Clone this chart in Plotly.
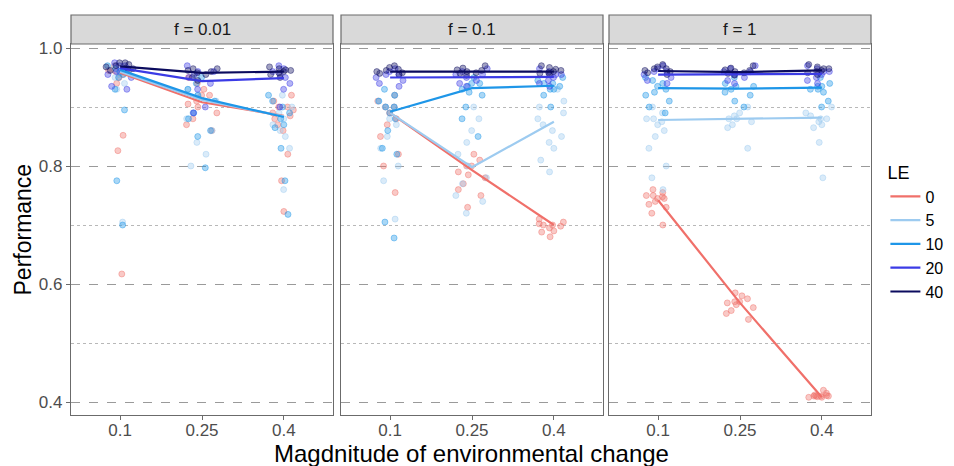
import plotly.graph_objects as go
from plotly.subplots import make_subplots

# ---------------- data ----------------
facets = ["f = 0.01", "f = 0.1", "f = 1"]
magnitudes = ["0.1", "0.25", "0.4"]
le_levels = ["0", "5", "10", "20", "40"]
le_colors = ["#F0706A", "#9DCBF0", "#1E96E8", "#3B3BE6", "#0B0B5E"]

# mean performance per facet, per LE, per magnitude (lines)
means_f001 = {
    "0":  [0.958, 0.908, 0.885],
    "5":  [0.960, 0.912, 0.884],
    "10": [0.963, 0.915, 0.883],
    "20": [0.966, 0.944, 0.949],
    "40": [0.969, 0.958, 0.960],
}
means_f01 = {
    "0":  [0.890, 0.793, 0.700],
    "5":  [0.890, 0.798, 0.875],
    "10": [0.892, 0.932, 0.936],
    "20": [0.950, 0.951, 0.951],
    "40": [0.960, 0.960, 0.960],
}
means_f1 = {
    "0":  [0.742, 0.568, 0.408],
    "5":  [0.878, 0.880, 0.882],
    "10": [0.932, 0.931, 0.933],
    "20": [0.955, 0.955, 0.956],
    "40": [0.961, 0.959, 0.962],
}

# individual runs (points) per facet, per LE, per magnitude
runs_f001 = {
    "0": [[0.97, 0.965, 0.96, 0.955, 0.95, 0.96, 0.94, 0.852, 0.826, 0.617, 0.958, 0.962],
          [0.93, 0.92, 0.91, 0.90, 0.89, 0.92, 0.88, 0.87, 0.86, 0.95, 0.94, 0.905],
          [0.91, 0.90, 0.89, 0.88, 0.87, 0.86, 0.92, 0.775, 0.723, 0.82, 0.90, 0.895, 0.885]],
    "5": [[0.97, 0.96, 0.955, 0.95, 0.94, 0.93, 0.705, 0.96, 0.965],
          [0.93, 0.92, 0.91, 0.89, 0.88, 0.86, 0.84, 0.82, 0.80, 0.95],
          [0.90, 0.89, 0.88, 0.87, 0.86, 0.85, 0.83, 0.76, 0.92]],
    "10": [[0.97, 0.965, 0.96, 0.955, 0.95, 0.93, 0.895, 0.775, 0.70, 0.96],
           [0.95, 0.93, 0.92, 0.91, 0.89, 0.88, 0.86, 0.85, 0.797, 0.94],
           [0.92, 0.91, 0.89, 0.88, 0.87, 0.865, 0.83, 0.775, 0.718, 0.90]],
    "20": [[0.975, 0.97, 0.965, 0.96, 0.955, 0.95, 0.93, 0.935, 0.97],
           [0.97, 0.96, 0.95, 0.94, 0.93, 0.90, 0.89, 0.96, 0.955],
           [0.97, 0.96, 0.955, 0.95, 0.94, 0.93, 0.90, 0.965]],
    "40": [[0.975, 0.972, 0.97, 0.968, 0.965, 0.962, 0.975, 0.96],
           [0.965, 0.962, 0.96, 0.958, 0.955, 0.95, 0.945, 0.965],
           [0.965, 0.963, 0.96, 0.958, 0.955, 0.95, 0.962, 0.968]],
}
runs_f01 = {
    "0": [[0.92, 0.91, 0.90, 0.89, 0.88, 0.87, 0.85, 0.82, 0.80, 0.755, 0.90],
          [0.82, 0.81, 0.80, 0.79, 0.785, 0.78, 0.77, 0.76, 0.75, 0.73, 0.80],
          [0.71, 0.705, 0.70, 0.698, 0.695, 0.69, 0.688, 0.68, 0.70, 0.702]],
    "5": [[0.92, 0.91, 0.90, 0.88, 0.87, 0.85, 0.83, 0.80, 0.775, 0.71, 0.90],
          [0.88, 0.86, 0.84, 0.82, 0.80, 0.78, 0.77, 0.75, 0.74, 0.72, 0.90],
          [0.93, 0.91, 0.90, 0.89, 0.88, 0.87, 0.86, 0.85, 0.84, 0.83, 0.81, 0.79]],
    "10": [[0.93, 0.92, 0.91, 0.90, 0.89, 0.88, 0.86, 0.83, 0.82, 0.705, 0.678, 0.90],
           [0.95, 0.94, 0.935, 0.93, 0.925, 0.92, 0.90, 0.88, 0.85, 0.94],
           [0.95, 0.945, 0.94, 0.935, 0.93, 0.93, 0.92, 0.90, 0.94]],
    "20": [[0.965, 0.96, 0.955, 0.95, 0.945, 0.94, 0.935, 0.955],
           [0.965, 0.96, 0.955, 0.95, 0.945, 0.94, 0.935, 0.955],
           [0.965, 0.96, 0.955, 0.95, 0.945, 0.94, 0.935, 0.955]],
    "40": [[0.97, 0.967, 0.964, 0.96, 0.957, 0.955, 0.962, 0.958],
           [0.97, 0.966, 0.963, 0.96, 0.957, 0.954, 0.962, 0.958],
           [0.97, 0.967, 0.964, 0.96, 0.957, 0.955, 0.962, 0.958]],
}
runs_f1 = {
    "0": [[0.76, 0.755, 0.75, 0.748, 0.745, 0.74, 0.735, 0.73, 0.72, 0.70, 0.745, 0.75],
          [0.585, 0.58, 0.575, 0.57, 0.568, 0.565, 0.56, 0.555, 0.55, 0.54, 0.57],
          [0.415, 0.412, 0.41, 0.41, 0.41, 0.409, 0.408, 0.408, 0.41, 0.42, 0.411]],
    "5": [[0.90, 0.89, 0.88, 0.875, 0.87, 0.86, 0.85, 0.83, 0.80, 0.78, 0.76, 0.88],
          [0.90, 0.89, 0.885, 0.88, 0.875, 0.87, 0.865, 0.83, 0.88],
          [0.90, 0.89, 0.885, 0.88, 0.875, 0.87, 0.865, 0.84, 0.78, 0.88]],
    "10": [[0.95, 0.945, 0.94, 0.935, 0.93, 0.925, 0.92, 0.90, 0.89, 0.91],
           [0.95, 0.94, 0.935, 0.93, 0.925, 0.92, 0.91, 0.90, 0.935],
           [0.95, 0.94, 0.935, 0.93, 0.93, 0.925, 0.91, 0.90, 0.935]],
    "20": [[0.97, 0.965, 0.96, 0.955, 0.95, 0.945, 0.94, 0.96],
           [0.97, 0.965, 0.96, 0.955, 0.95, 0.945, 0.94, 0.96],
           [0.97, 0.965, 0.96, 0.955, 0.95, 0.945, 0.94, 0.96]],
    "40": [[0.972, 0.968, 0.965, 0.962, 0.96, 0.958, 0.955, 0.965],
           [0.97, 0.966, 0.963, 0.96, 0.957, 0.954, 0.962, 0.958],
           [0.972, 0.968, 0.965, 0.962, 0.96, 0.958, 0.955, 0.965]],
}

y_ticks = [0.4, 0.6, 0.8, 1.0]
y_tick_labels = ["0.4", "0.6", "0.8", "1.0"]

# ---------------- figure ----------------
FONT = "Liberation Sans, Arial, sans-serif"
W, H = 954, 466
ML, MR, MT, MB = 71, 83, 44, 51
PW = W - ML - MR
PH = H - MT - MB

panel_px = [(71, 333), (341, 603), (609, 871)]
domains = [((a - ML) / PW, (b - ML) / PW) for a, b in panel_px]

fig = make_subplots(rows=1, cols=3, shared_yaxes=True, horizontal_spacing=0.01)

def rgba(hexc, a):
    h = hexc.lstrip("#")
    r, g, b = int(h[0:2], 16), int(h[2:4], 16), int(h[4:6], 16)
    return f"rgba({r},{g},{b},{a})"

all_runs = [runs_f001, runs_f01, runs_f1]
all_means = [means_f001, means_f01, means_f1]

for p in range(3):
    runs = all_runs[p]
    for le, col in zip(le_levels, le_colors):
        xs, ys = [], []
        for mi, m in enumerate(magnitudes):
            for v in runs[le][mi]:
                xs.append(m)
                ys.append(v)
        fig.add_trace(go.Box(
            x=xs, y=ys, boxpoints="all", jitter=1.0, pointpos=0, width=0.42,
            fillcolor="rgba(0,0,0,0)", line=dict(width=0, color="rgba(0,0,0,0)"),
            whiskerwidth=0,
            marker=dict(size=6, color=rgba(col, 0.38),
                        line=dict(width=0.8, color=rgba(col, 0.55))),
            showlegend=False, legendgroup=le, hoverinfo="y",
        ), row=1, col=p + 1)

for p in range(3):
    means = all_means[p]
    for le, col in zip(le_levels, le_colors):
        fig.add_trace(go.Scatter(
            x=magnitudes, y=means[le], mode="lines",
            line=dict(color=col, width=2.2),
            name=le, legendgroup=le, showlegend=(p == 0),
        ), row=1, col=p + 1)

grid_major = "#9a9a9a"
grid_minor = "#b8b8b8"
for p in range(3):
    xa = "xaxis" if p == 0 else f"xaxis{p+1}"
    ya = "yaxis" if p == 0 else f"yaxis{p+1}"
    fig.layout[xa].update(
        domain=list(domains[p]), type="category", range=[-0.6, 2.6],
        categoryorder="array", categoryarray=magnitudes,
        showgrid=False, zeroline=False,
        showline=True, mirror=True, linecolor="#6b6b6b", linewidth=1.2,
        ticks="outside", ticklen=4, tickcolor="#6b6b6b",
        ticklabelstandoff=-5,
        tickfont=dict(family=FONT, size=17, color="#4d4d4d"),
    )
    fig.layout[ya].update(
        range=[0.378, 1.0068], tickvals=y_ticks, ticktext=y_tick_labels,
        showgrid=True, gridcolor=grid_major, griddash="dash", gridwidth=1,
        zeroline=False,
        showline=True, mirror=True, linecolor="#6b6b6b", linewidth=1.2,
        ticks="outside" if p == 0 else "", ticklen=4, tickcolor="#6b6b6b",
        showticklabels=(p == 0),
        tickfont=dict(family=FONT, size=17, color="#4d4d4d"),
        minor=dict(tickvals=[0.5, 0.7, 0.9], showgrid=True, gridcolor=grid_minor,
                   griddash="dot", gridwidth=1, ticks=""),
    )

shapes = []
annotations = []
strip_top = 1 + 29 / PH
for p, (d0, d1) in enumerate(domains):
    shapes.append(dict(type="rect", xref="paper", yref="paper",
                       x0=d0, x1=d1, y0=1.0, y1=strip_top,
                       fillcolor="#d9d9d9", line=dict(color="#6b6b6b", width=1.2),
                       layer="above"))
    annotations.append(dict(text=facets[p], xref="paper", yref="paper",
                            x=(d0 + d1) / 2, y=(1 + strip_top) / 2,
                            showarrow=False, xanchor="center", yanchor="middle",
                            font=dict(family=FONT, size=17, color="#1a1a1a")))

annotations.append(dict(text="Magdnitude of environmental change", xref="paper", yref="paper",
                        x=0.5, y=-(453 - 415) / PH, xanchor="center", yanchor="middle",
                        showarrow=False, font=dict(family=FONT, size=24, color="#000000")))
annotations.append(dict(text="Performance", xref="paper", yref="paper",
                        x=-(71 - 22) / PW, y=0.5, xanchor="center", yanchor="middle",
                        textangle=-90, showarrow=False,
                        font=dict(family=FONT, size=23, color="#000000")))

fig.update_layout(
    width=W, height=H,
    margin=dict(l=ML, r=MR, t=MT, b=MB, autoexpand=False),
    paper_bgcolor="white", plot_bgcolor="white",
    boxmode="overlay",
    shapes=shapes, annotations=annotations,
    showlegend=True,
    legend=dict(
        title=dict(text="LE", font=dict(family=FONT, size=18, color="#000000")),
        font=dict(family=FONT, size=16, color="#000000"),
        x=1.018, xanchor="left", y=1 - (156 - MT) / PH, yanchor="top",
        bgcolor="rgba(0,0,0,0)", itemwidth=30, tracegroupgap=0,
    ),
    font=dict(family=FONT),
)

fig.write_html("out.html", config={"displayModeBar": False},
               post_script="document.body.style.margin='0';document.body.style.overflow='hidden';")
